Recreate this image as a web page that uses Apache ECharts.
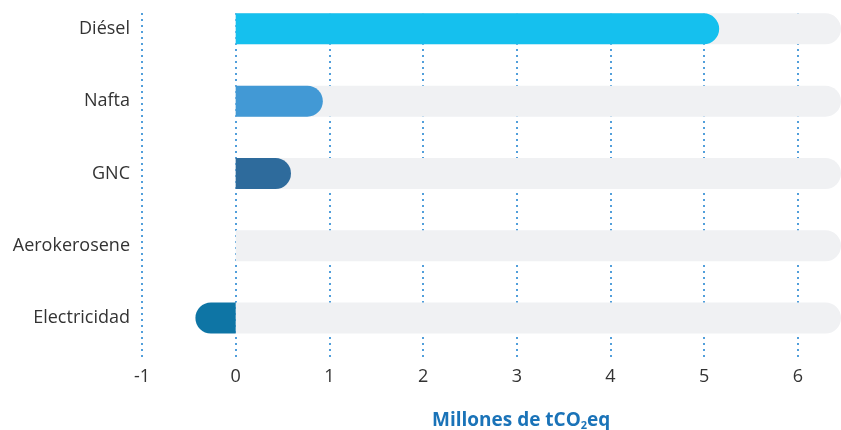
<!DOCTYPE html>
<html>
<head>
<meta charset="utf-8">
<script src="https://cdn.jsdelivr.net/npm/echarts@6/dist/echarts.min.js"></script>
<style>
  html, body { margin: 0; padding: 0; background: #fff; }
  #chart { width: 841px; height: 430px; }
</style>
</head>
<body>
<div id="chart"></div>
<script>
// datos
const categories = ['Diésel', 'Nafta', 'GNC', 'Aerokerosene', 'Electricidad']
const values = [5.16, 0.93, 0.59, 0, -0.43]
const barColors = ['#15c0ee', '#4299d5', '#2e6b9c', '#2e6b9c', '#0e75a5']
const axisMin = -1
const axisMax = 6.46
const trackValues = categories.map(() => axisMax) // barra gris de fondo

const font = '"Open Sans", "Noto Sans", sans-serif'
const r = 15.5

const myChart = echarts.init(document.getElementById('chart'))

const option = {
    animation: false,
    title: {
        text: '{a|Millones de tCO}{b|2}{a|eq}',
        left: 427,
        top: 406,
        textStyle: {
            rich: {
                a: { fontFamily: font, fontSize: 19, fontWeight: 'bold', color: '#1a73b8' },
                b: { fontFamily: font, fontSize: 11, fontWeight: 'bold', color: '#1a73b8', padding: [9, 0, 0, 0] }
            }
        }
    },
    grid: [
        // barras
        { left: 142, right: 0, top: -7.3, height: 361.5, outerBoundsMode: 'none' },
        // lineas de grilla + etiquetas
        { left: 142, right: 0, top: 13, height: 344, outerBoundsMode: 'none' }
    ],
    xAxis: [
        {
            gridIndex: 0, type: 'value', min: axisMin, max: axisMax, interval: 1,
            axisLabel: { show: false }, axisLine: { show: false }, axisTick: { show: false },
            splitLine: { show: false }
        },
        {
            gridIndex: 1, type: 'value', min: axisMin, max: axisMax, interval: 1,
            axisLine: { show: false }, axisTick: { show: false },
            axisLabel: {
                fontFamily: font, fontSize: 18, color: '#333', margin: 11,
                showMaxLabel: false
            },
            splitLine: {
                showMaxLine: false,
                lineStyle: { color: '#1a80d0', type: [2, 4], width: 1.5 }
            }
        }
    ],
    yAxis: [
        {
            gridIndex: 0, type: 'category', data: categories, inverse: true,
            axisLine: { show: false }, axisTick: { show: false },
            axisLabel: { fontFamily: font, fontSize: 18, color: '#333', margin: 12 }
        },
        {
            gridIndex: 1, type: 'category', data: categories, show: false
        }
    ],
    series: [
        {
            type: 'bar',
            xAxisIndex: 0, yAxisIndex: 0,
            data: trackValues,
            barWidth: 31,
            silent: true,
            itemStyle: { color: '#f0f1f3', borderRadius: [0, r, r, 0] }
        },
        {
            type: 'bar',
            xAxisIndex: 0, yAxisIndex: 0,
            barGap: '-100%',
            barWidth: 31,
            data: values.map((v, i) => ({
                value: v,
                itemStyle: {
                    color: barColors[i],
                    borderRadius: v < 0 ? [r, 0, 0, r] : [0, r, r, 0]
                }
            }))
        }
    ]
}

myChart.setOption(option)
</script>
</body>
</html>
